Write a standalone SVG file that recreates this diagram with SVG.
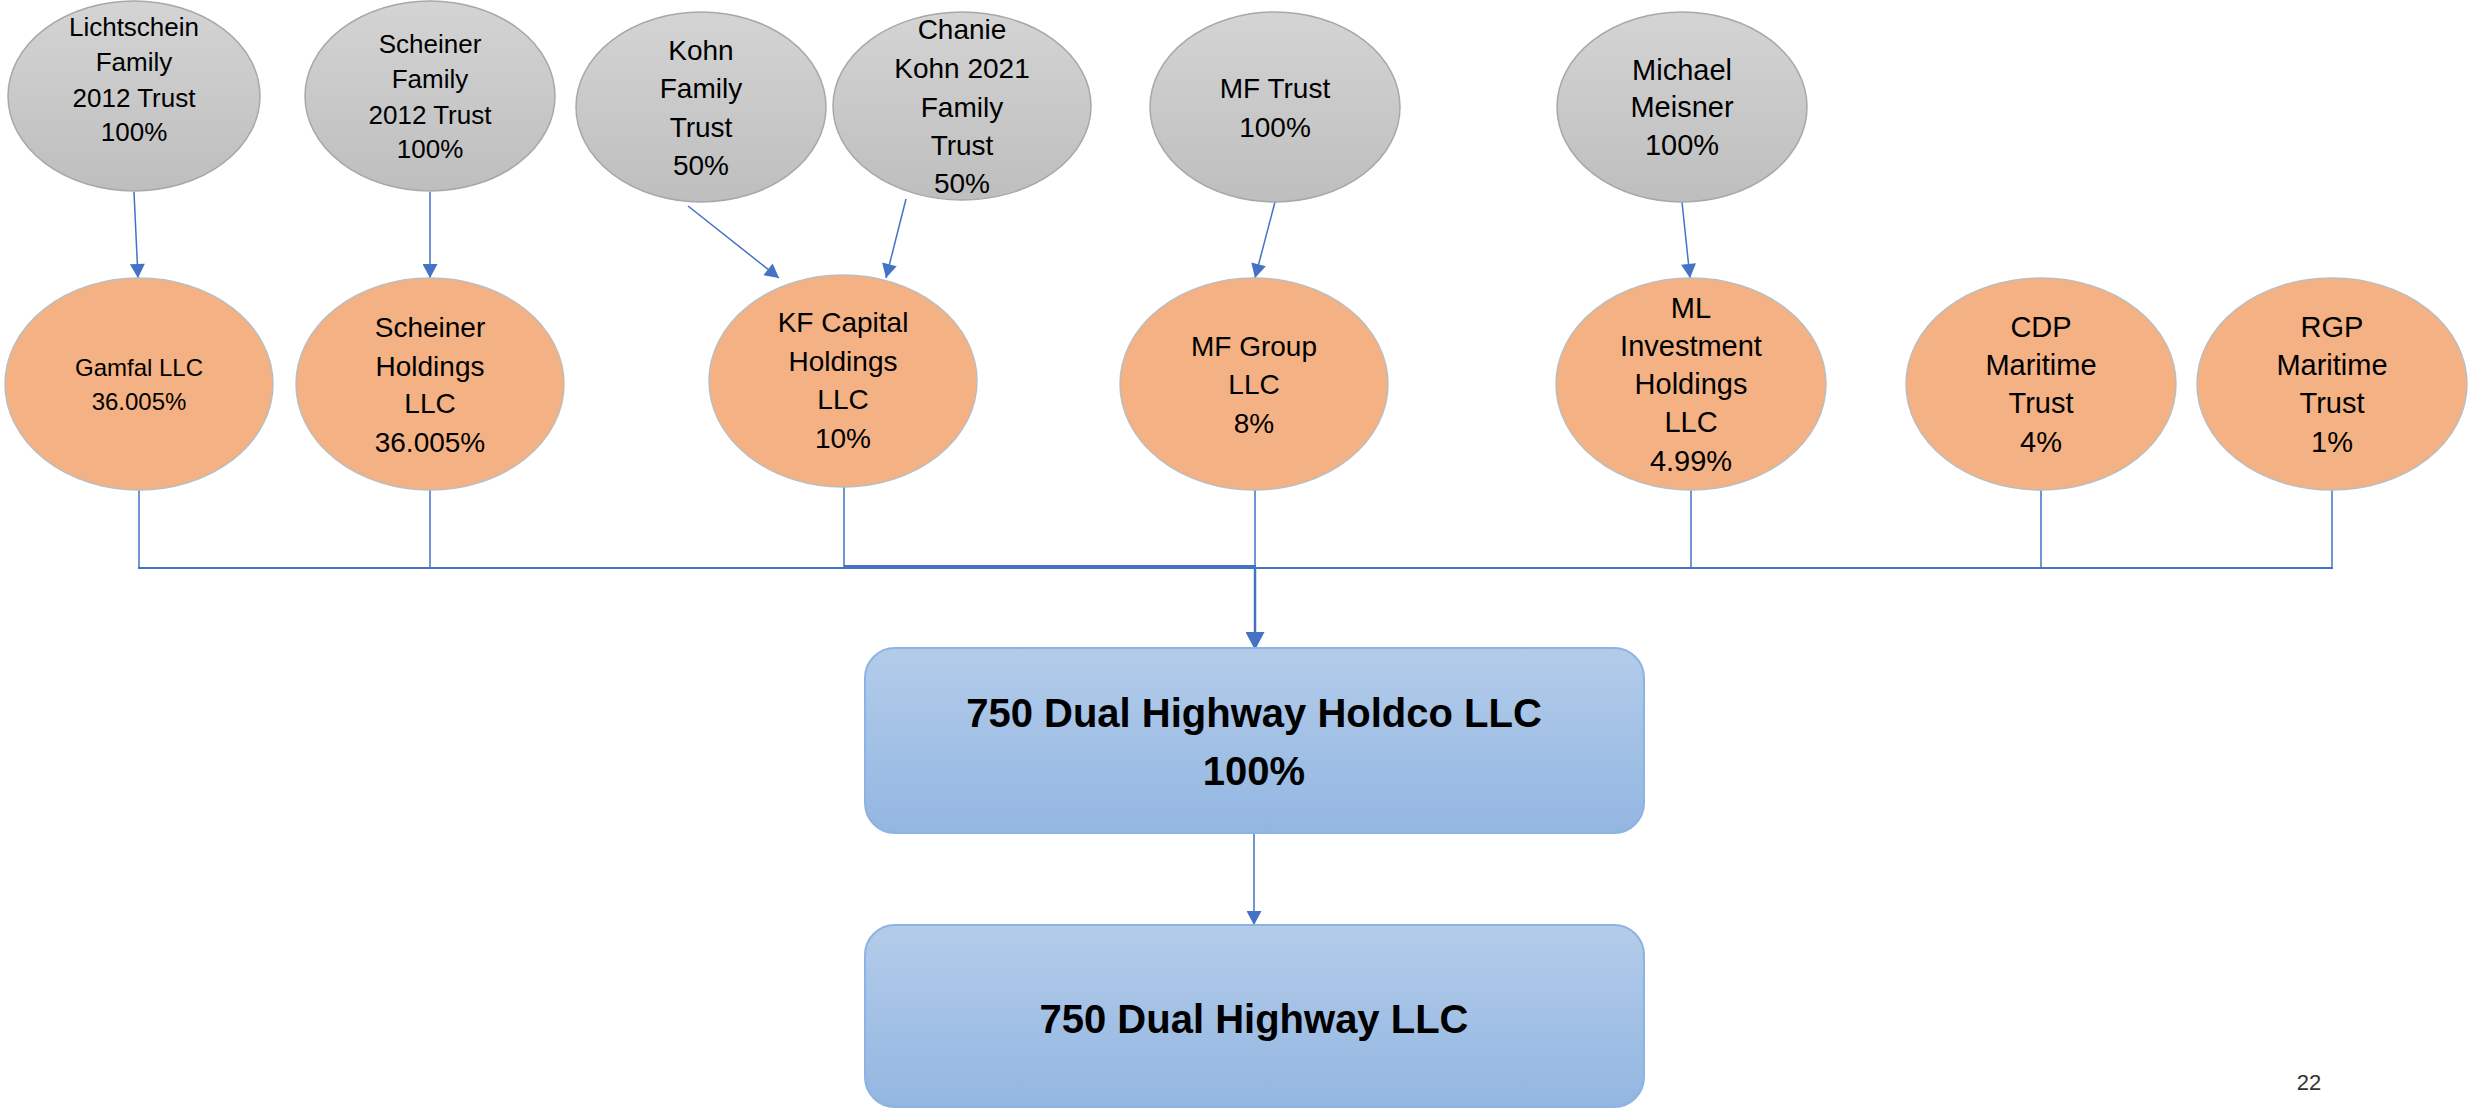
<svg xmlns="http://www.w3.org/2000/svg" width="2469" height="1109" viewBox="0 0 2469 1109">
<style>
.t{font-family:"Liberation Sans",Arial,sans-serif;fill:#000;text-anchor:middle}
.g{fill:url(#gray);stroke:#A8A8A8;stroke-width:1.5}
.o{fill:#F4B183;stroke:#BDBDBD;stroke-width:1.5}
.b{fill:url(#blue);stroke:#8DB3E2;stroke-width:2}
.c{stroke:#4472C4;stroke-width:1.5;fill:none}
.bt{font-family:"Liberation Sans",Arial,sans-serif;font-weight:bold;font-size:40px;fill:#000;text-anchor:middle}
</style>
<defs>
<linearGradient id="gray" x1="0" y1="0" x2="0" y2="1">
<stop offset="0" stop-color="#D4D4D4"/><stop offset="1" stop-color="#BEBEBE"/>
</linearGradient>
<linearGradient id="blue" x1="0" y1="0" x2="0" y2="1">
<stop offset="0" stop-color="#B3CCEA"/><stop offset="1" stop-color="#93B6E1"/>
</linearGradient>
<marker id="ah" markerUnits="userSpaceOnUse" markerWidth="15" markerHeight="15" viewBox="0 0 14 15" refX="14" refY="7.5" orient="auto">
<path d="M0,0 L14,7.5 L0,15 z" fill="#4472C4"/>
</marker>
<marker id="ah2" markerUnits="userSpaceOnUse" markerWidth="18" markerHeight="19" viewBox="0 0 18 19" refX="18" refY="9.5" orient="auto">
<path d="M0,0 L18,9.5 L0,19 z" fill="#4472C4"/>
</marker>
</defs>
<rect width="2469" height="1109" fill="#fff"/>

<g id="connectors">
<line class="c" x1="134" y1="192" x2="138" y2="278" marker-end="url(#ah)"/>
<line class="c" x1="430" y1="192" x2="430" y2="278" marker-end="url(#ah)"/>
<line class="c" x1="688" y1="206" x2="779" y2="278" marker-end="url(#ah)"/>
<line class="c" x1="906" y1="199" x2="886" y2="278" marker-end="url(#ah)"/>
<line class="c" x1="1275" y1="202" x2="1255" y2="278" marker-end="url(#ah)"/>
<line class="c" x1="1682" y1="202" x2="1690" y2="278" marker-end="url(#ah)"/>
<line class="c" x1="139" y1="489" x2="139" y2="568"/>
<line class="c" x1="430" y1="489" x2="430" y2="568"/>
<line class="c" x1="844" y1="486" x2="844" y2="568"/>
<line class="c" x1="1255" y1="489" x2="1255" y2="568"/>
<line class="c" x1="1691" y1="489" x2="1691" y2="568"/>
<line class="c" x1="2041" y1="489" x2="2041" y2="568"/>
<line class="c" x1="2332" y1="489" x2="2332" y2="568"/>
<line class="c" x1="138" y1="568" x2="2333" y2="568" style="stroke-width:2"/>
<line class="c" x1="844" y1="567" x2="1256" y2="567" style="stroke-width:4"/>
<line class="c" x1="1255" y1="567" x2="1255" y2="650" style="stroke-width:2.5" marker-end="url(#ah2)"/>
<line class="c" x1="1254" y1="833" x2="1254" y2="925" marker-end="url(#ah)"/>
</g>

<g id="lichtschein">
<ellipse class="g" cx="134" cy="96" rx="126" ry="95"/>
<text class="t" font-size="26"><tspan x="134" y="36">Lichtschein</tspan><tspan x="134" y="71">Family</tspan><tspan x="134" y="107">2012 Trust</tspan><tspan x="134" y="141">100%</tspan></text>
</g>
<g id="scheiner-family">
<ellipse class="g" cx="430" cy="96" rx="125" ry="95"/>
<text class="t" font-size="26"><tspan x="430" y="53">Scheiner</tspan><tspan x="430" y="88">Family</tspan><tspan x="430" y="124">2012 Trust</tspan><tspan x="430" y="158">100%</tspan></text>
</g>
<g id="kohn">
<ellipse class="g" cx="701" cy="107" rx="125" ry="95"/>
<text class="t" font-size="28"><tspan x="701" y="60">Kohn</tspan><tspan x="701" y="98">Family</tspan><tspan x="701" y="137">Trust</tspan><tspan x="701" y="175">50%</tspan></text>
</g>
<g id="chanie">
<ellipse class="g" cx="962" cy="106" rx="129" ry="94"/>
<text class="t" font-size="28"><tspan x="962" y="39">Chanie</tspan><tspan x="962" y="78">Kohn 2021</tspan><tspan x="962" y="117">Family</tspan><tspan x="962" y="155">Trust</tspan><tspan x="962" y="193">50%</tspan></text>
</g>
<g id="mf-trust">
<ellipse class="g" cx="1275" cy="107" rx="125" ry="95"/>
<text class="t" font-size="28"><tspan x="1275" y="98">MF Trust</tspan><tspan x="1275" y="137">100%</tspan></text>
</g>
<g id="michael">
<ellipse class="g" cx="1682" cy="107" rx="125" ry="95"/>
<text class="t" font-size="29"><tspan x="1682" y="80">Michael</tspan><tspan x="1682" y="117">Meisner</tspan><tspan x="1682" y="155">100%</tspan></text>
</g>

<g id="gamfal">
<ellipse class="o" cx="139" cy="384" rx="134" ry="106"/>
<text class="t" font-size="24"><tspan x="139" y="376">Gamfal LLC</tspan><tspan x="139" y="410">36.005%</tspan></text>
</g>
<g id="scheiner-holdings">
<ellipse class="o" cx="430" cy="384" rx="134" ry="106"/>
<text class="t" font-size="28"><tspan x="430" y="337">Scheiner</tspan><tspan x="430" y="376">Holdings</tspan><tspan x="430" y="413">LLC</tspan><tspan x="430" y="452">36.005%</tspan></text>
</g>
<g id="kf-capital">
<ellipse class="o" cx="843" cy="381" rx="134" ry="106"/>
<text class="t" font-size="28"><tspan x="843" y="332">KF Capital</tspan><tspan x="843" y="371">Holdings</tspan><tspan x="843" y="409">LLC</tspan><tspan x="843" y="448">10%</tspan></text>
</g>
<g id="mf-group">
<ellipse class="o" cx="1254" cy="384" rx="134" ry="106"/>
<text class="t" font-size="28"><tspan x="1254" y="356">MF Group</tspan><tspan x="1254" y="394">LLC</tspan><tspan x="1254" y="433">8%</tspan></text>
</g>
<g id="ml-investment">
<ellipse class="o" cx="1691" cy="384" rx="135" ry="106"/>
<text class="t" font-size="29"><tspan x="1691" y="318">ML</tspan><tspan x="1691" y="356">Investment</tspan><tspan x="1691" y="394">Holdings</tspan><tspan x="1691" y="432">LLC</tspan><tspan x="1691" y="471">4.99%</tspan></text>
</g>
<g id="cdp">
<ellipse class="o" cx="2041" cy="384" rx="135" ry="106"/>
<text class="t" font-size="29"><tspan x="2041" y="337">CDP</tspan><tspan x="2041" y="375">Maritime</tspan><tspan x="2041" y="413">Trust</tspan><tspan x="2041" y="452">4%</tspan></text>
</g>
<g id="rgp">
<ellipse class="o" cx="2332" cy="384" rx="135" ry="106"/>
<text class="t" font-size="29"><tspan x="2332" y="337">RGP</tspan><tspan x="2332" y="375">Maritime</tspan><tspan x="2332" y="413">Trust</tspan><tspan x="2332" y="452">1%</tspan></text>
</g>

<g id="holdco">
<rect class="b" x="865" y="648" width="779" height="185" rx="30"/>
<text class="bt"><tspan x="1254" y="727">750 Dual Highway Holdco LLC</tspan><tspan x="1254" y="785">100%</tspan></text>
</g>
<g id="dual-highway">
<rect class="b" x="865" y="925" width="779" height="182" rx="30"/>
<text class="bt" x="1254" y="1033">750 Dual Highway LLC</text>
</g>
<text x="2309" y="1090" font-family="Liberation Sans,Arial,sans-serif" font-size="22" fill="#333" text-anchor="middle">22</text>
</svg>
